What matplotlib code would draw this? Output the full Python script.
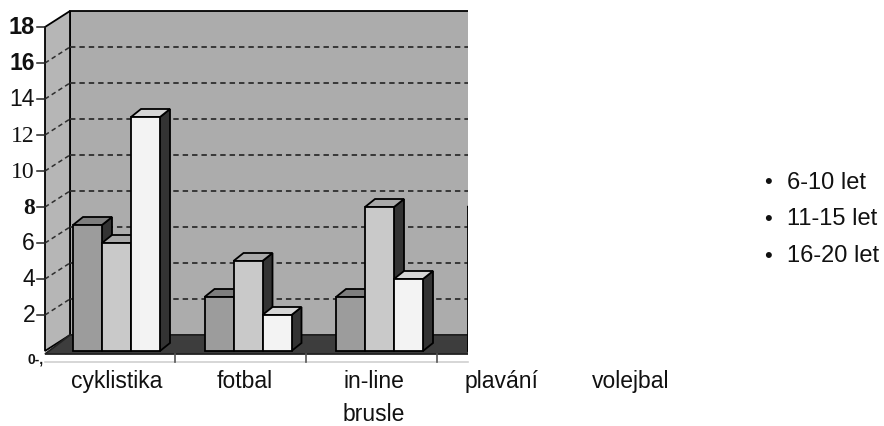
import numpy as np
import matplotlib
matplotlib.use("Agg")
import matplotlib.pyplot as plt
from matplotlib.patches import Polygon, Rectangle

# data
categories = ["cyklistika", "fotbal", "in-line\nbrusle", "plavání", "volejbal"]
series_names = ["6-10 let", "11-15 let", "16-20 let"]
age_6_10 = [7, 3, 3, 8, np.nan]
age_11_15 = [6, 5, 8, np.nan, np.nan]
age_16_20 = [13, 2, 4, np.nan, np.nan]
y_ticks = [0, 2, 4, 6, 8, 10, 12, 14, 16, 18]

face_colors = ["#9c9c9c", "#c9c9c9", "#f3f3f3"]
top_colors = ["#7e7e7e", "#a9a9a9", "#d6d6d6"]
side_color = "#333333"

# pixel scale of the drawing (one category step, one value unit)
PX = 131.5
PY = 18.0
W, H = 884, 427
X0 = 116.5  # pixel column of the first category

fig = plt.figure(figsize=(W / 100, H / 100), dpi=100)
ax = fig.add_axes([0, 0, 1, 1])
ax.set_xlim(-X0 / PX, (W - X0) / PX)
ax.set_ylim(-75 / PY, (H - 75) / PY)
ax.axis("off")

bar_w = 29 / PX
bdx, bdy = 10 / PX, 8 / PY          # bar depth
wdx, wdy = 25 / PX, 16 / PY         # wall depth
x_left = (45 - X0) / PX              # front of left wall
x_cut = (467.5 - X0) / PX            # right border of the plot
ymax = y_ticks[-1]

clip = Rectangle((x_left - 1, -10), x_cut - x_left + 1, 40, transform=ax.transData)

def poly(pts, fc, ec="black", lw=1.3, z=1, clipped=True):
    p = Polygon(pts, closed=True, facecolor=fc, edgecolor=ec, linewidth=lw, zorder=z,
                joinstyle="miter")
    ax.add_patch(p)
    if clipped:
        p.set_clip_path(clip)
    return p

# walls and floor
poly([(x_left + wdx, wdy), (x_cut + 0.2, wdy), (x_cut + 0.2, ymax + wdy),
      (x_left + wdx, ymax + wdy)], "#acacac", z=1)
poly([(x_left, 0), (x_left + wdx, wdy), (x_left + wdx, ymax + wdy), (x_left, ymax)],
     "#b6b6b6", z=1)
poly([(x_left, -0.15), (x_cut + 0.2, -0.15), (x_cut + 0.2, wdy), (x_left + wdx, wdy)],
     "#3d3d3d", ec="#222222", z=2)

# dashed grid on back and side wall
for v in y_ticks[1:-1]:
    ax.plot([x_left + wdx, x_cut], [v + wdy, v + wdy], color="#2e2e2e",
            lw=1.3, dashes=(3, 2.2), zorder=1.5)
    ax.plot([x_left, x_left + wdx], [v, v + wdy], color="#2e2e2e", lw=1.1,
            dashes=(3, 2.2), zorder=1.5)

# bars
series = [age_6_10, age_11_15, age_16_20]
for i in range(len(categories)):
    for k, vals in enumerate(series):
        v = vals[i]
        if np.isnan(v):
            continue
        x0 = i - 1.5 * bar_w + k * bar_w
        x1 = x0 + bar_w
        poly([(x1, 0), (x1 + bdx, bdy), (x1 + bdx, v + bdy), (x1, v)], side_color, z=3 + k)
        poly([(x0, v), (x1, v), (x1 + bdx, v + bdy), (x0 + bdx, v + bdy)],
             top_colors[k], z=3 + k)
        poly([(x0, 0), (x1, 0), (x1, v), (x0, v)], face_colors[k], z=3 + k)

# front axis below the floor
ax.plot([x_left, x_cut], [-0.6, -0.6], color="#d0d0d0", lw=1.2, zorder=2)
for i in range(3):
    ax.plot([0.445 + 0.995 * i] * 2, [-0.15, -0.6], color="#555555", lw=1.2, zorder=2)

# value axis: ticks and mixed-style labels
tick_styles = {
    18: dict(family="Liberation Sans", weight="bold", size=17),
    16: dict(family="Liberation Sans", weight="bold", size=16.5),
    14: dict(family="Liberation Sans", weight="normal", size=16.5),
    12: dict(family="Liberation Serif", weight="normal", size=17),
    10: dict(family="Liberation Serif", weight="normal", size=17),
    8: dict(family="Liberation Serif", weight="bold", size=17),
    6: dict(family="Liberation Sans", weight="normal", size=16.5),
    4: dict(family="Liberation Sans", weight="normal", size=16.5),
    2: dict(family="Liberation Sans", weight="normal", size=16.5),
}
for v in y_ticks:
    if v == 0:
        ax.text(x_left - 1 / PX, -0.4, "0-,", ha="right", va="center",
                family="Liberation Sans", weight="bold", fontsize=10, color="#111111")
        continue
    ax.plot([x_left - 8 / PX, x_left], [v, v], color="#222222", lw=1.1, zorder=2)
    ax.text(x_left - 10 / PX, v, str(v), ha="right", va="center", color="#111111",
            **tick_styles[v])

# category labels
for i, name in enumerate(categories):
    ax.text(0.977 * i, -1.0, name, ha="center", va="top", fontsize=16.5,
            family="Liberation Sans", color="#111111", linespacing=1.55)

# legend as plain bullet list
for k, name in enumerate(series_names):
    y = 1 - (183 + 36.5 * k) / H
    fig.text(768 / W, y, "•", ha="center", va="center", fontsize=16,
             family="Liberation Sans", color="#111111")
    fig.text(787 / W, y, name, ha="left", va="center", fontsize=17,
             family="Liberation Sans", color="#111111")

fig.savefig("out.png", dpi=100, facecolor="white")
